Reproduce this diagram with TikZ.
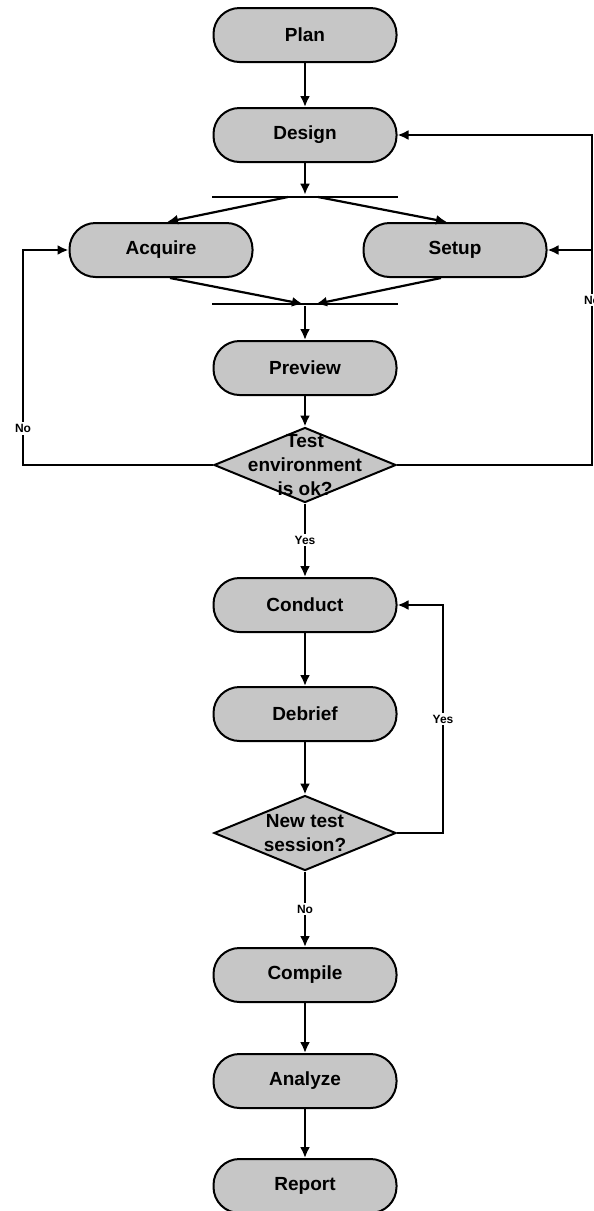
\documentclass[tikz,border=0pt]{standalone}
\usepackage{fontspec}
\setmainfont{Liberation Sans}
\usepackage{tikz}
\usetikzlibrary{shapes.geometric, arrows.meta}

\tikzset{
    stepbox/.style={draw, line width=2pt, fill=gray!45, rectangle, rounded corners=26pt,
        minimum width=183pt, minimum height=54pt, inner sep=0pt,
        font=\bfseries\fontsize{19}{24}\selectfont},
    decision/.style={draw, line width=2pt, fill=gray!45, diamond, aspect=2.4,
        minimum width=182pt, minimum height=75pt, inner sep=0pt},
    dtext/.style={align=center, inner sep=0pt, font=\bfseries\fontsize{19}{24}\selectfont},
    bar/.style={fill=black, minimum width=186pt, minimum height=2.4pt, inner sep=0pt},
    lbl/.style={fill=white, inner sep=2pt, font=\bfseries\fontsize{12}{14}\selectfont}
}

\begin{document}
\begin{tikzpicture}[x=1pt, y=-1pt, line width=2.2pt, >={Latex[length=11pt,width=10pt]}]
        \useasboundingbox (0, 0) rectangle (594, 1211);

        \node[stepbox] at (305, 35) (plan) {Plan};
        \node[stepbox] at (305, 135) (design) {Design};
        \node[bar] at (305, 197) (fork) {};
        \node[stepbox] at (161, 250) (acquire) {Acquire};
        \node[stepbox] at (455, 250) (setup) {Setup};
        \node[bar] at (305, 304) (join) {};
        \node[stepbox] at (305, 368) (preview) {Preview};
        \node[decision] at (305, 465) (testok) {};
        \node[dtext] at (testok) (testtxt) {Test\\environment\\is ok?};
        \node[stepbox] at (305, 605) (conduct) {Conduct};
        \node[stepbox] at (305, 714) (debrief) {Debrief};
        \node[decision] at (305, 833) (newtest) {};
        \node[dtext] at (newtest) (newtxt) {New test\\session?};
        \node[stepbox] at (305, 975) (compile) {Compile};
        \node[stepbox] at (305, 1081) (analyze) {Analyze};
        \node[stepbox] at (305, 1186) (report) {Report};

        % corners of the loops
        \coordinate (lturn) at (23, 465);
        \coordinate (rturn) at (592, 465);
        \coordinate (ytop) at (443, 605);

        \draw[->] (plan) -- (design);
        \draw[->] (design) -- (fork);
        \draw[->] ([xshift=-17pt]fork.center) -- ([xshift=6pt]acquire.north);
        \draw[->] ([xshift=13pt]fork.center) -- ([xshift=-8pt]setup.north);
        \draw[->] ([xshift=9pt]acquire.south) -- ([xshift=-2pt]join.center);
        \draw[->] ([xshift=-14pt]setup.south) -- ([xshift=11pt]join.center);
        \draw[->] (join) -- (preview);
        \draw[->] (preview) -- (testok);

        \draw[->] (testok.west) -- (lturn) -- node[lbl, pos=0.17] {No} (lturn |- acquire.west) -- (acquire.west);
        \draw[->] (testok.east) -- (rturn) -- node[lbl, pos=0.5] {No} (rturn |- design.east) -- (design.east);
        \draw[->] (rturn |- setup.east) -- (setup.east);

        \draw[->] (testok) -- node[lbl, midway] {Yes} (conduct);
        \draw[->] (conduct) -- (debrief);
        \draw[->] (debrief) -- (newtest);
        \draw[->] (newtest.east) -- (ytop |- newtest.east) -- node[lbl, midway] {Yes} (ytop) -- (conduct.east);
        \draw[->] (newtest) -- node[lbl, midway] {No} (compile);
        \draw[->] (compile) -- (analyze);
        \draw[->] (analyze) -- (report);
    \end{tikzpicture}
\end{document}
